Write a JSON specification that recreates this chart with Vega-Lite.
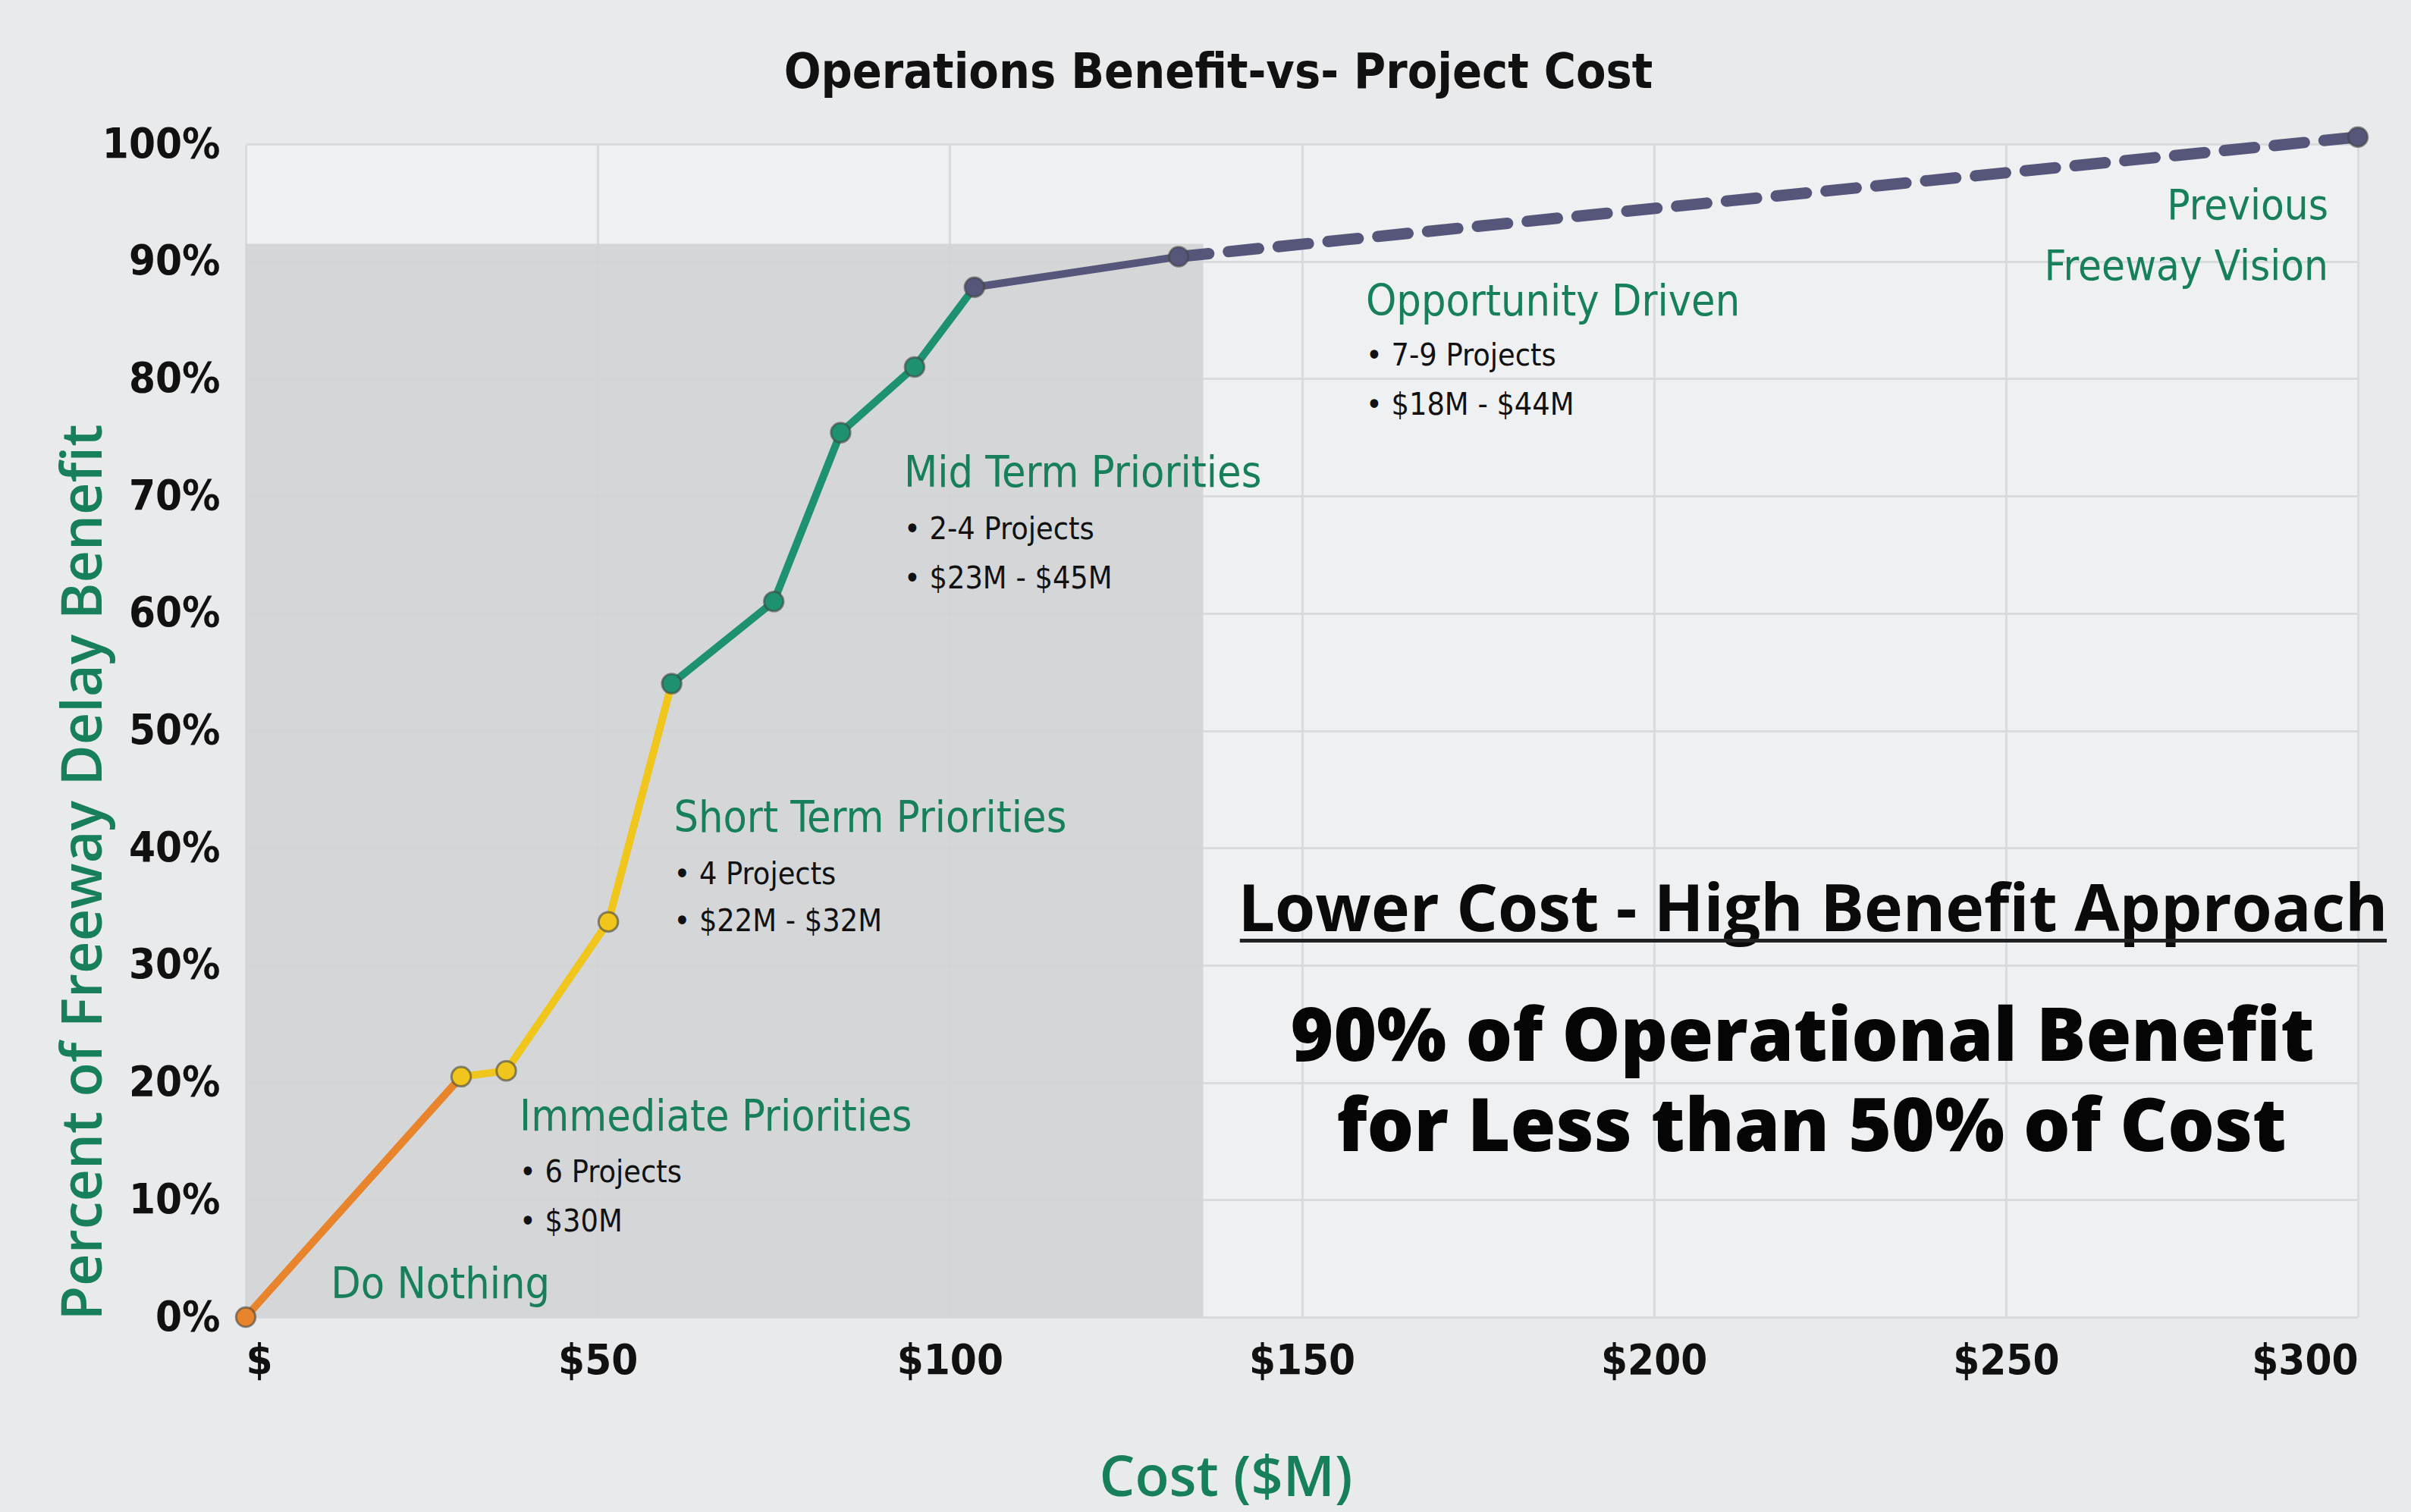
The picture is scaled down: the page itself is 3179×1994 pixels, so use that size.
{
  "$schema": "https://vega.github.io/schema/vega-lite/v6.json",
  "autosize": "none",
  "width": 2785,
  "height": 1547,
  "padding": {"left": 324, "top": 190, "right": 70, "bottom": 257},
  "background": "#E8EAEC",
  "title": {
    "text": "Operations Benefit-vs- Project Cost",
    "font": "DejaVu Sans Condensed, Roboto, sans-serif",
    "fontWeight": "bold",
    "fontSize": 64,
    "color": "#111111",
    "anchor": "middle",
    "dx": -110,
    "offset": 22
  },
  "config": {
    "view": {"fill": "#EEF0F2", "stroke": null},
    "axis": {
      "labelFont": "DejaVu Sans Condensed, Roboto, sans-serif",
      "labelFontWeight": "bold",
      "labelFontSize": 56,
      "labelColor": "#111111",
      "titleFont": "Open Sans",
      "titleFontWeight": 600,
      "titleFontSize": 74,
      "titleColor": "#17805A",
      "domain": false,
      "ticks": false,
      "gridColor": "#D9DCDF",
      "gridWidth": 3
    }
  },
  "datasets": {
    "curve": [
      {"cost": 0, "benefit": 0, "seg": "Do Nothing", "ord": 1},
      {"cost": 30.6, "benefit": 20.5, "seg": "Do Nothing", "ord": 2},
      {"cost": 30.6, "benefit": 20.5, "seg": "Immediate", "ord": 1},
      {"cost": 37, "benefit": 21, "seg": "Immediate", "ord": 2},
      {"cost": 51.5, "benefit": 33.7, "seg": "Immediate", "ord": 3},
      {"cost": 60.5, "benefit": 54, "seg": "Immediate", "ord": 4},
      {"cost": 60.5, "benefit": 54, "seg": "Mid Term", "ord": 1},
      {"cost": 75, "benefit": 61, "seg": "Mid Term", "ord": 2},
      {"cost": 84.5, "benefit": 75.4, "seg": "Mid Term", "ord": 3},
      {"cost": 95, "benefit": 81, "seg": "Mid Term", "ord": 4},
      {"cost": 103.5, "benefit": 87.8, "seg": "Mid Term", "ord": 5},
      {"cost": 103.5, "benefit": 87.8, "seg": "Opportunity", "ord": 1},
      {"cost": 132.5, "benefit": 90.4, "seg": "Opportunity", "ord": 2}
    ],
    "vision": [
      {"cost": 132.5, "benefit": 90.4},
      {"cost": 300, "benefit": 100.6}
    ],
    "pts": [
      {"cost": 0, "benefit": 0, "seg": "Do Nothing"},
      {"cost": 30.6, "benefit": 20.5, "seg": "Immediate"},
      {"cost": 37, "benefit": 21, "seg": "Immediate"},
      {"cost": 51.5, "benefit": 33.7, "seg": "Immediate"},
      {"cost": 60.5, "benefit": 54, "seg": "Mid Term"},
      {"cost": 75, "benefit": 61, "seg": "Mid Term"},
      {"cost": 84.5, "benefit": 75.4, "seg": "Mid Term"},
      {"cost": 95, "benefit": 81, "seg": "Mid Term"},
      {"cost": 103.5, "benefit": 87.8, "seg": "Opportunity"},
      {"cost": 132.5, "benefit": 90.4, "seg": "Opportunity"},
      {"cost": 300, "benefit": 100.6, "seg": "Opportunity"}
    ],
    "heads": [
      {"cost": 12.1, "benefit": 2.7, "text": "Do Nothing"},
      {"cost": 38.9, "benefit": 17.0, "text": "Immediate Priorities"},
      {"cost": 60.8, "benefit": 42.5, "text": "Short Term Priorities"},
      {"cost": 93.5, "benefit": 71.9, "text": "Mid Term Priorities"},
      {"cost": 159.1, "benefit": 86.5, "text": "Opportunity Driven"}
    ],
    "bullets": [
      {"cost": 38.9, "benefit": 12.3, "text": "•  6 Projects"},
      {"cost": 38.9, "benefit": 8.1, "text": "•  $30M"},
      {"cost": 60.8, "benefit": 37.7, "text": "•  4 Projects"},
      {"cost": 60.8, "benefit": 33.7, "text": "•  $22M - $32M"},
      {"cost": 93.5, "benefit": 67.1, "text": "•  2-4 Projects"},
      {"cost": 93.5, "benefit": 62.9, "text": "•  $23M - $45M"},
      {"cost": 159.1, "benefit": 81.9, "text": "•  7-9 Projects"},
      {"cost": 159.1, "benefit": 77.7, "text": "•  $18M - $44M"}
    ],
    "prev": [
      {"cost": 295.8, "benefit": 94.7, "text": "Previous"},
      {"cost": 295.8, "benefit": 89.5, "text": "Freeway Vision"}
    ],
    "big": [
      {"cost": 221.1, "benefit": 23.7, "text": "90% of Operational Benefit"},
      {"cost": 222.4, "benefit": 16.0, "text": "for Less than 50% of Cost"}
    ],
    "sub": [
      {"cost": 222.6, "benefit": 34.6, "text": "Lower Cost - High Benefit Approach"}
    ],
    "underline": [
      {"x1": 141.2, "x2": 304.1, "y": 32.1}
    ],
    "box": [
      {"x1": 0, "x2": 136, "y1": 0, "y2": 91.5}
    ]
  },
  "layer": [
    {
      "data": {"name": "box"},
      "mark": {"type": "rect", "color": "#D2D3D4", "opacity": 0.9},
      "encoding": {
        "x": {
          "field": "x1", "type": "quantitative",
          "scale": {"domain": [0, 300], "nice": false},
          "axis": {
            "values": [0, 50, 100, 150, 200, 250, 300],
            "labelExpr": "'$' + (datum.value == 0 ? '' : datum.value)",
            "labelPadding": 30,
            "title": "Cost ($M)",
            "titleX": 1292,
            "titleY": 213,
            "titleBaseline": "middle",
            "titleAnchor": null
          }
        },
        "x2": {"field": "x2"},
        "y": {
          "field": "y1", "type": "quantitative",
          "scale": {"domain": [0, 100], "nice": false},
          "axis": {
            "values": [0, 10, 20, 30, 40, 50, 60, 70, 80, 90, 100],
            "labelExpr": "datum.value + '%'",
            "labelPadding": 34,
            "title": "Percent of Freeway Delay Benefit",
            "titleX": -213,
            "titleY": 960,
            "titleBaseline": "middle",
            "titleAnchor": null
          }
        },
        "y2": {"field": "y2"}
      }
    },
    {
      "data": {"name": "vision"},
      "mark": {"type": "line", "color": "#56557A", "strokeWidth": 15, "strokeDash": [40, 26], "strokeCap": "round"},
      "encoding": {
        "x": {"field": "cost", "type": "quantitative"},
        "y": {"field": "benefit", "type": "quantitative"}
      }
    },
    {
      "data": {"name": "curve"},
      "mark": {"type": "line", "strokeCap": "round"},
      "encoding": {
        "x": {"field": "cost", "type": "quantitative"},
        "y": {"field": "benefit", "type": "quantitative"},
        "order": {"field": "ord"},
        "color": {
          "field": "seg", "type": "nominal",
          "scale": {
            "domain": ["Do Nothing", "Immediate", "Mid Term", "Opportunity"],
            "range": ["#E8842C", "#F0C51C", "#1E9170", "#56557A"]
          },
          "legend": null
        },
        "strokeWidth": {
          "field": "seg", "type": "nominal",
          "scale": {
            "domain": ["Do Nothing", "Immediate", "Mid Term", "Opportunity"],
            "range": [10, 10, 11, 14]
          },
          "legend": null
        }
      }
    },
    {
      "data": {"name": "pts"},
      "mark": {"type": "point", "filled": true, "size": 650, "strokeWidth": 3, "stroke": "#444444", "strokeOpacity": 0.6, "opacity": 1},
      "encoding": {
        "x": {"field": "cost", "type": "quantitative"},
        "y": {"field": "benefit", "type": "quantitative"},
        "fill": {
          "field": "seg", "type": "nominal",
          "scale": {
            "domain": ["Do Nothing", "Immediate", "Mid Term", "Opportunity"],
            "range": ["#E8842C", "#F0C51C", "#1E9170", "#56557A"]
          },
          "legend": null
        }
      }
    },
    {
      "data": {"name": "heads"},
      "mark": {"type": "text", "align": "left", "baseline": "middle", "font": "DejaVu Sans Condensed, Roboto, sans-serif", "fontSize": 57, "color": "#17805A"},
      "encoding": {
        "x": {"field": "cost", "type": "quantitative"},
        "y": {"field": "benefit", "type": "quantitative"},
        "text": {"field": "text"}
      }
    },
    {
      "data": {"name": "bullets"},
      "mark": {"type": "text", "align": "left", "baseline": "middle", "font": "DejaVu Sans Condensed, Roboto, sans-serif", "fontSize": 41, "color": "#111111"},
      "encoding": {
        "x": {"field": "cost", "type": "quantitative"},
        "y": {"field": "benefit", "type": "quantitative"},
        "text": {"field": "text"}
      }
    },
    {
      "data": {"name": "prev"},
      "mark": {"type": "text", "align": "right", "baseline": "middle", "font": "DejaVu Sans Condensed, Roboto, sans-serif", "fontSize": 56, "color": "#17805A"},
      "encoding": {
        "x": {"field": "cost", "type": "quantitative"},
        "y": {"field": "benefit", "type": "quantitative"},
        "text": {"field": "text"}
      }
    },
    {
      "data": {"name": "sub"},
      "mark": {"type": "text", "align": "center", "baseline": "middle", "font": "Open Sans", "fontWeight": "bold", "fontSize": 86, "color": "#0A0A0A"},
      "encoding": {
        "x": {"field": "cost", "type": "quantitative"},
        "y": {"field": "benefit", "type": "quantitative"},
        "text": {"field": "text"}
      }
    },
    {
      "data": {"name": "underline"},
      "mark": {"type": "rule", "color": "#222222", "strokeWidth": 5},
      "encoding": {
        "x": {"field": "x1", "type": "quantitative"},
        "x2": {"field": "x2"},
        "y": {"field": "y", "type": "quantitative"}
      }
    },
    {
      "data": {"name": "big"},
      "mark": {"type": "text", "align": "center", "baseline": "middle", "font": "Open Sans", "fontWeight": 800, "fontSize": 97, "color": "#050505"},
      "encoding": {
        "x": {"field": "cost", "type": "quantitative"},
        "y": {"field": "benefit", "type": "quantitative"},
        "text": {"field": "text"}
      }
    }
  ]
}
